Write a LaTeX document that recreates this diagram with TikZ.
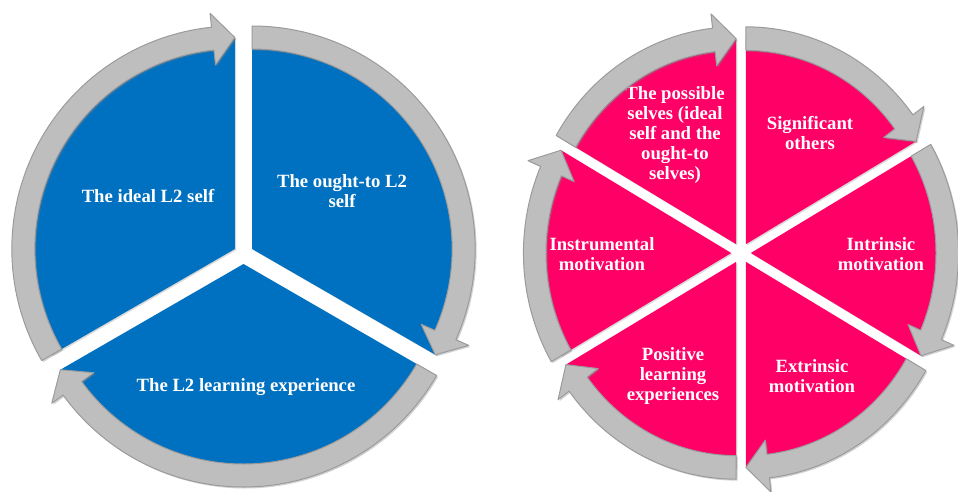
\documentclass[tikz,border=0pt]{standalone}
\usepackage{fontspec}
\setmainfont{Liberation Serif}
\usetikzlibrary{shadows}
\definecolor{segblue}{RGB}{0,112,192}
\definecolor{segpink}{RGB}{255,0,102}
\definecolor{bandgray}{RGB}{190,190,190}
\definecolor{bandedge}{RGB}{155,155,155}
\tikzset{
  wedgeshape/.style={drop shadow={shadow xshift=1.2pt, shadow yshift=-1.2pt, opacity=0.3}},
  bandshape/.style={fill=bandgray, draw=bandedge, line width=1pt, line join=round,
    drop shadow={shadow xshift=1.5pt, shadow yshift=-1.5pt, opacity=0.35}},
  lbl/.style={text=white, font=\bfseries\fontsize{18.7}{19.8}\selectfont, align=center, inner sep=0pt},
}
\newcommand{\wedgeseg}[3]{\path[fill=#3, wedgeshape] (0,0) -- (#1:\Rw) arc[start angle=#1, end angle=#2, radius=\Rw] -- cycle;}
\newcommand{\bandseg}[2]{%
  \pgfmathsetmacro{\hb}{#2+\Ha}%
  \path[bandshape] (#1:\Rout) arc[start angle=#1, end angle=\hb, radius=\Rout] -- (\hb:\Rho) -- (#2:\Rm) -- (\hb:\Rhi) -- (\hb:\Rin) arc[start angle=\hb, end angle=#1, radius=\Rin] -- cycle;}
\begin{document}
\begin{tikzpicture}[x=1pt,y=1pt]
\useasboundingbox (0,0) rectangle (958,491);
\fill[white] (0,0) rectangle (958,491);
% ---------- left diagram: wedges
\begin{scope}[shift={(243.5,237)}]
  \def\Rw{212}
  \begin{scope}[shift={(150:10)}]\wedgeseg{210}{90}{segblue}\end{scope}
  \begin{scope}[shift={(30:10)}]\wedgeseg{90}{-30}{segblue}\end{scope}
  \begin{scope}[shift={(270:10)}]\wedgeseg{330}{210}{segblue}\end{scope}
\end{scope}
% ---------- right diagram: wedges
\begin{scope}[shift={(741,238)}, xscale=0.98, yscale=1.025]
  \def\Rw{201}
  \begin{scope}[shift={(120:10)}]\wedgeseg{150}{90}{segpink}\end{scope}
  \begin{scope}[shift={(60:10)}]\wedgeseg{90}{30}{segpink}\end{scope}
  \begin{scope}[shift={(0:10)}]\wedgeseg{30}{-30}{segpink}\end{scope}
  \begin{scope}[shift={(-60:10)}]\wedgeseg{-30}{-90}{segpink}\end{scope}
  \begin{scope}[shift={(-120:10)}]\wedgeseg{-90}{-150}{segpink}\end{scope}
  \begin{scope}[shift={(180:10)}]\wedgeseg{210}{150}{segpink}\end{scope}
\end{scope}
% ---------- labels
\node[lbl] (ideal) at (148,295) {The ideal L2 self};
\node[lbl] (ought) at (342,300) {The ought-to L2\\self};
\node[lbl] (learn) at (246,104) {The L2 learning experience};
\node[lbl] (possible) at (675,356) {The possible\\selves (ideal\\self and the\\ought-to\\selves)};
\node[lbl] (signif) at (810,358) {Significant\\others};
\node[lbl] (intrin) at (881,237) {Intrinsic\\motivation};
\node[lbl] (extrin) at (812,115) {Extrinsic\\motivation};
\node[lbl] (posit) at (673,115) {Positive\\learning\\experiences};
\node[lbl] (instr) at (602,237) {Instrumental\\motivation};
% ---------- left diagram: arrow bands
\begin{scope}[shift={(243.5,237)}]
  \def\Rin{200}\def\Rout{223}\def\Rm{211.5}\def\Rho{237}\def\Rhi{185}\def\Ha{6}
  \begin{scope}[shift={(150:10)}]\bandseg{210}{90}\end{scope}
  \begin{scope}[shift={(30:10)}]\bandseg{90}{-30}\end{scope}
  \begin{scope}[shift={(270:10)}]\bandseg{330}{210}\end{scope}
\end{scope}
% ---------- right diagram: arrow bands
\begin{scope}[shift={(741,238)}, xscale=0.98, yscale=1.025]
  \def\Rin{189}\def\Rout{212}\def\Rm{200.5}\def\Rho{226}\def\Rhi{175}\def\Ha{6.5}
  \begin{scope}[shift={(120:10)}]\bandseg{150}{90}\end{scope}
  \begin{scope}[shift={(60:10)}]\bandseg{90}{30}\end{scope}
  \begin{scope}[shift={(0:10)}]\bandseg{30}{-30}\end{scope}
  \begin{scope}[shift={(-60:10)}]\bandseg{-30}{-90}\end{scope}
  \begin{scope}[shift={(-120:10)}]\bandseg{-90}{-150}\end{scope}
  \begin{scope}[shift={(180:10)}]\bandseg{210}{150}\end{scope}
\end{scope}
\end{tikzpicture}
\end{document}
